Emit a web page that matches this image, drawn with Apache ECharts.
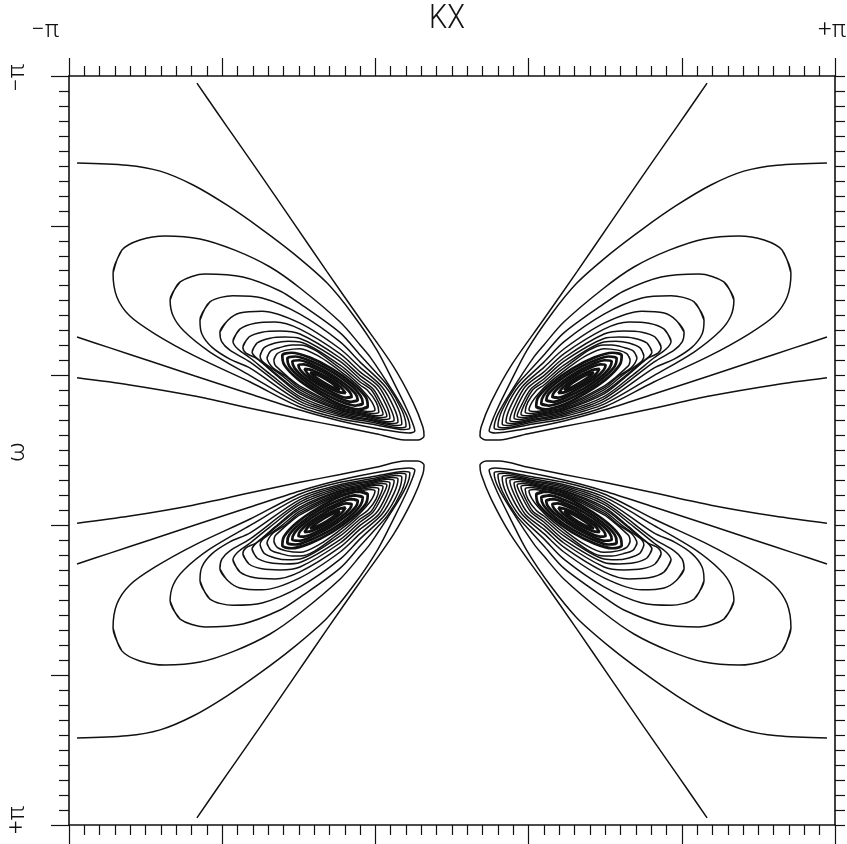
<!DOCTYPE html>
<html><head><meta charset="utf-8">
<script src="https://cdn.jsdelivr.net/npm/echarts@6/dist/echarts.min.js"></script>
<style>html,body{margin:0;padding:0;background:#fff}#c{width:847px;height:844px}</style>
</head><body><div id="c"></div>
<script>
// ---- text ----
const xTitle = 'KX';
const yTitle = 'ω';
const xEndLabels = ['−π', '+π'];
const yEndLabels = ['−π', '+π'];
// axis range in units of π, major tick every 2π/5, 10 minor steps
const axisMin = -1, axisMax = 1, majorStep = 0.4, minorSplit = 10;

// ---- contour lines of the upper-left lobe, [kx/π, ω/π]; the other three lobes are its mirror images ----
const openA = [[-0.666,-0.981],[-0.614,-0.904],[-0.561,-0.826],[-0.501,-0.738],[-0.415,-0.610],[-0.326,-0.477],[-0.240,-0.351],[-0.154,-0.226],[-0.102,-0.129],[-0.076,-0.063],[-0.073,-0.039],[-0.089,-0.028],[-0.123,-0.028],[-0.196,-0.044],[-0.292,-0.064],[-0.397,-0.085],[-0.527,-0.113],[-0.676,-0.146],[-0.841,-0.175],[-0.979,-0.194]];
const openB = [[-0.979,-0.768],[-0.849,-0.762],[-0.762,-0.746],[-0.676,-0.709],[-0.587,-0.655],[-0.501,-0.594],[-0.415,-0.527],[-0.326,-0.447],[-0.258,-0.362],[-0.196,-0.268],[-0.149,-0.175],[-0.117,-0.108],[-0.102,-0.071],[-0.097,-0.052],[-0.112,-0.047],[-0.175,-0.055],[-0.292,-0.079],[-0.397,-0.108],[-0.527,-0.151],[-0.671,-0.199],[-0.789,-0.239],[-0.893,-0.274],[-0.979,-0.303]];
const ring1 = [[-0.885,-0.474],[-0.862,-0.535],[-0.815,-0.562],[-0.749,-0.573],[-0.658,-0.565],[-0.567,-0.535],[-0.475,-0.490],[-0.397,-0.434],[-0.292,-0.343],[-0.240,-0.282],[-0.214,-0.250],[-0.157,-0.162],[-0.120,-0.097],[-0.110,-0.060],[-0.125,-0.056],[-0.201,-0.069],[-0.292,-0.085],[-0.397,-0.116],[-0.527,-0.183],[-0.671,-0.252],[-0.775,-0.311],[-0.841,-0.359],[-0.875,-0.410]];
const ring2 = [[-0.736,-0.402],[-0.710,-0.450],[-0.645,-0.471],[-0.546,-0.463],[-0.449,-0.426],[-0.397,-0.392],[-0.292,-0.314],[-0.240,-0.255],[-0.209,-0.220],[-0.167,-0.172],[-0.131,-0.108],[-0.120,-0.065],[-0.136,-0.061],[-0.206,-0.075],[-0.292,-0.091],[-0.397,-0.124],[-0.527,-0.200],[-0.632,-0.263],[-0.700,-0.319],[-0.728,-0.359]];
const ring3 = [[-0.658,-0.348],[-0.632,-0.397],[-0.572,-0.413],[-0.496,-0.407],[-0.397,-0.364],[-0.292,-0.290],[-0.240,-0.236],[-0.175,-0.172],[-0.141,-0.113],[-0.131,-0.071],[-0.146,-0.067],[-0.211,-0.080],[-0.292,-0.095],[-0.397,-0.131],[-0.527,-0.220],[-0.580,-0.244],[-0.627,-0.276],[-0.653,-0.311]];
const ring4 = [[-0.606,-0.316],[-0.585,-0.348],[-0.554,-0.367],[-0.496,-0.372],[-0.397,-0.340],[-0.292,-0.271],[-0.240,-0.222],[-0.183,-0.170],[-0.151,-0.113],[-0.141,-0.076],[-0.157,-0.072],[-0.217,-0.084],[-0.292,-0.099],[-0.397,-0.138],[-0.527,-0.236],[-0.580,-0.268],[-0.601,-0.290]];
const ring5 = [[-0.572,-0.292],[-0.554,-0.324],[-0.514,-0.340],[-0.462,-0.343],[-0.397,-0.324],[-0.292,-0.258],[-0.240,-0.210],[-0.191,-0.170],[-0.162,-0.116],[-0.151,-0.081],[-0.167,-0.077],[-0.222,-0.089],[-0.292,-0.103],[-0.397,-0.144],[-0.475,-0.204],[-0.527,-0.247],[-0.559,-0.271]];
const ring6 = [[-0.546,-0.276],[-0.530,-0.303],[-0.496,-0.316],[-0.449,-0.319],[-0.397,-0.311],[-0.292,-0.247],[-0.240,-0.200],[-0.198,-0.167],[-0.172,-0.121],[-0.162,-0.087],[-0.178,-0.083],[-0.227,-0.093],[-0.292,-0.107],[-0.397,-0.151],[-0.462,-0.204],[-0.512,-0.247],[-0.538,-0.260]];
const ring7 = [[-0.522,-0.263],[-0.509,-0.287],[-0.475,-0.300],[-0.436,-0.303],[-0.397,-0.299],[-0.292,-0.238],[-0.240,-0.191],[-0.206,-0.164],[-0.183,-0.124],[-0.170,-0.092],[-0.185,-0.088],[-0.232,-0.097],[-0.292,-0.109],[-0.397,-0.156],[-0.449,-0.196],[-0.496,-0.236],[-0.514,-0.250]];
const ring8 = [[-0.501,-0.252],[-0.491,-0.274],[-0.462,-0.287],[-0.428,-0.292],[-0.397,-0.290],[-0.292,-0.228],[-0.240,-0.183],[-0.211,-0.162],[-0.191,-0.127],[-0.180,-0.097],[-0.196,-0.093],[-0.238,-0.101],[-0.292,-0.112],[-0.397,-0.162],[-0.444,-0.200],[-0.480,-0.226],[-0.496,-0.239]];
const ring9 = [[-0.483,-0.247],[-0.473,-0.266],[-0.446,-0.276],[-0.418,-0.282],[-0.397,-0.282],[-0.292,-0.220],[-0.240,-0.175],[-0.219,-0.159],[-0.198,-0.129],[-0.191,-0.103],[-0.206,-0.099],[-0.245,-0.105],[-0.292,-0.115],[-0.397,-0.167],[-0.436,-0.199],[-0.467,-0.220],[-0.478,-0.234]];
const ring10 = [[-0.465,-0.242],[-0.457,-0.258],[-0.433,-0.268],[-0.397,-0.272],[-0.345,-0.250],[-0.292,-0.212],[-0.253,-0.180],[-0.225,-0.151],[-0.209,-0.129],[-0.201,-0.108],[-0.217,-0.104],[-0.253,-0.111],[-0.292,-0.118],[-0.397,-0.172],[-0.428,-0.196],[-0.452,-0.218],[-0.462,-0.228]];
const core1 = [[-0.220,-0.117],[-0.244,-0.110],[-0.292,-0.123],[-0.350,-0.154],[-0.404,-0.192],[-0.438,-0.229],[-0.443,-0.254],[-0.419,-0.261],[-0.371,-0.248],[-0.313,-0.218],[-0.260,-0.179],[-0.225,-0.142]];
const core2 = [[-0.233,-0.125],[-0.254,-0.120],[-0.296,-0.133],[-0.347,-0.159],[-0.394,-0.193],[-0.425,-0.225],[-0.430,-0.246],[-0.409,-0.251],[-0.368,-0.238],[-0.316,-0.212],[-0.269,-0.178],[-0.239,-0.146]];
const core3 = [[-0.246,-0.134],[-0.264,-0.130],[-0.299,-0.142],[-0.344,-0.165],[-0.385,-0.194],[-0.411,-0.220],[-0.417,-0.238],[-0.399,-0.241],[-0.364,-0.229],[-0.320,-0.206],[-0.279,-0.177],[-0.252,-0.151]];
const core4 = [[-0.262,-0.143],[-0.276,-0.141],[-0.304,-0.151],[-0.340,-0.171],[-0.374,-0.194],[-0.396,-0.215],[-0.401,-0.228],[-0.387,-0.230],[-0.359,-0.220],[-0.323,-0.201],[-0.289,-0.177],[-0.267,-0.156]];
const core5 = [[-0.278,-0.153],[-0.297,-0.156],[-0.337,-0.176],[-0.374,-0.202],[-0.385,-0.218],[-0.366,-0.215],[-0.326,-0.195],[-0.290,-0.169]];
const core6 = [[-0.293,-0.162],[-0.307,-0.166],[-0.334,-0.181],[-0.360,-0.199],[-0.370,-0.209],[-0.357,-0.205],[-0.329,-0.190],[-0.303,-0.172]];

const openContours = [openA, openB];
const ringContours = [ring1, ring2, ring3, ring4, ring5, ring6, ring7, ring8, ring9, ring10];
const coreContours = [core1, core2, core3, core4, core5, core6];
const quadrantSigns = [[1, 1], [-1, 1], [1, -1], [-1, -1]];

// ---- build series ----
const series = [];
quadrantSigns.forEach(([sx, sy]) => {
  const add = (pts, closed, w) => {
    let d = pts.map(p => [p[0] * sx, p[1] * sy]);
    if (closed) d = d.concat([d[0], d[1]]);
    series.push({
      type: 'line', data: d, showSymbol: false, symbol: 'none', smooth: 0.3,
      xAxisIndex: 0, yAxisIndex: 0, silent: true, animation: false,
      lineStyle: { color: '#111', width: w }
    });
  };
  openContours.forEach(c => add(c, false, 1.5));
  ringContours.forEach(c => add(c, true, 1.5));
  coreContours.forEach(c => add(c, true, 2.7));
});

const tickStyle = { color: '#111', width: 1.2 };
const baseAxis = (extra) => Object.assign({
  type: 'value', min: axisMin, max: axisMax, interval: majorStep,
  axisLine: { show: true, onZero: false, lineStyle: { color: '#111', width: 1.6 } },
  axisTick: { show: true, inside: false, length: 18, lineStyle: tickStyle },
  minorTick: { show: true, splitNumber: minorSplit, length: 10, lineStyle: tickStyle },
  axisLabel: { show: false }, splitLine: { show: false }, minorSplitLine: { show: false }
}, extra);

const titleFont = '300 34px Roboto, "Liberation Sans", sans-serif';
const labFont = '300 24px Roboto, "Liberation Sans", sans-serif';
const chart = echarts.init(document.getElementById('c'), null, { renderer: 'canvas' });
chart.setOption({
  backgroundColor: '#fff',
  animation: false,
  grid: { left: 69, right: 12, top: 76, bottom: 19, containLabel: false },
  xAxis: [
    baseAxis({ position: 'top' }),
    baseAxis({ position: 'bottom', axisTick: { show: true, length: 20, lineStyle: tickStyle } })
  ],
  yAxis: [
    baseAxis({ position: 'left', inverse: true }),
    baseAxis({ position: 'right', inverse: true, axisTick: { show: true, length: 10, lineStyle: tickStyle } })
  ],
  series: series,
  graphic: [
    { type: 'text', x: 447, y: 19, scaleX: 0.85, style: { text: xTitle, font: titleFont, fill: '#111', textAlign: 'center', textVerticalAlign: 'middle' } },
    { type: 'text', x: 45, y: 31, style: { text: xEndLabels[0], font: labFont, fill: '#111', textAlign: 'center', textVerticalAlign: 'middle' } },
    { type: 'text', x: 832, y: 31, style: { text: xEndLabels[1], font: labFont, fill: '#111', textAlign: 'center', textVerticalAlign: 'middle' } },
    { type: 'text', x: 18, y: 78, rotation: Math.PI / 2, style: { text: yEndLabels[0], font: labFont, fill: '#111', textAlign: 'center', textVerticalAlign: 'middle' } },
    { type: 'text', x: 18, y: 452, rotation: Math.PI / 2, style: { text: yTitle, font: labFont, fill: '#111', textAlign: 'center', textVerticalAlign: 'middle' } },
    { type: 'text', x: 18, y: 820, rotation: Math.PI / 2, style: { text: yEndLabels[1], font: labFont, fill: '#111', textAlign: 'center', textVerticalAlign: 'middle' } }
  ]
});
</script></body></html>
